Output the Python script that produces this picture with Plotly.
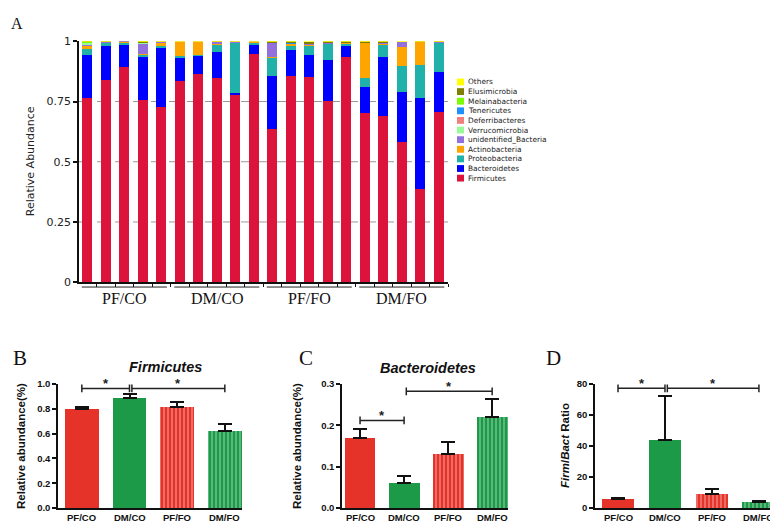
import plotly.graph_objects as go

W, H = 778, 523
def px(x): return x / W
def py(y): return 1 - y / H

# ---------------- Panel A data ----------------
group_names = ["PF/CO", "DM/CO", "PF/FO", "DM/FO"]
samples = [f"{g}-{i}" for g in group_names for i in range(1, 6)]

phyla = ["Firmicutes", "Bacteroidetes", "Proteobacteria", "Actinobacteria",
         "unidentified_Bacteria", "Verrucomicrobia", "Deferribacteres",
         "Tenericutes", "Melainabacteria", "Elusimicrobia", "Others"]
phyla_colors = ["#DC143C", "#0000FF", "#20B2AA", "#FFA500", "#9370DB", "#98FB98",
                "#F08080", "#1E90FF", "#7CFC00", "#808000", "#FFFF00"]

firmicutes = [0.766, 0.838, 0.895, 0.757, 0.727, 0.834, 0.864, 0.847, 0.777, 0.949,
              0.634, 0.854, 0.850, 0.751, 0.935, 0.704, 0.689, 0.581, 0.388, 0.705]
bacteroidetes = [0.176, 0.143, 0.092, 0.176, 0.246, 0.097, 0.074, 0.108, 0.007, 0.036,
                 0.221, 0.111, 0.093, 0.173, 0.045, 0.108, 0.246, 0.209, 0.377, 0.168]
proteobacteria = [0.024, 0.011, 0.005, 0.009, 0.007, 0.008, 0.007, 0.032, 0.209, 0.008,
                  0.075, 0.015, 0.037, 0.065, 0.010, 0.037, 0.052, 0.106, 0.135, 0.119]
actinobacteria = [0.014, 0.003, 0.007, 0.006, 0.015, 0.058, 0.052, 0.003, 0.002, 0.003,
                  0.004, 0.008, 0.004, 0.002, 0.003, 0.144, 0.003, 0.081, 0.096, 0.002]
unidentified = [0.006, 0.002, 0.001, 0.040, 0.001, 0.001, 0.001, 0.006, 0.001, 0.001,
                0.058, 0.002, 0.007, 0.003, 0.002, 0.002, 0.002, 0.020, 0.001, 0.002]
verrucomicrobia = [0.006, 0, 0, 0.004, 0, 0, 0, 0, 0, 0,
                   0.003, 0, 0, 0, 0, 0, 0, 0, 0, 0]
deferribacteres = [0.001, 0, 0, 0.003, 0, 0, 0, 0, 0, 0,
                   0, 0, 0, 0, 0, 0, 0, 0, 0, 0]
tenericutes = [0.001, 0, 0, 0, 0, 0, 0, 0, 0, 0,
               0, 0.002, 0, 0, 0, 0, 0, 0, 0, 0]
melainabacteria = [0.003, 0, 0, 0, 0, 0, 0, 0, 0, 0,
                   0, 0, 0, 0, 0, 0, 0, 0, 0, 0]
elusimicrobia = [0.001, 0.002, 0, 0.003, 0, 0, 0, 0.002, 0, 0,
                 0.002, 0.004, 0.005, 0.004, 0.002, 0.002, 0.005, 0, 0.002, 0.003]
others = [0.002, 0.001, 0, 0.002, 0.004, 0.002, 0.002, 0.002, 0.004, 0.003,
          0.003, 0.004, 0.004, 0.002, 0.003, 0.003, 0.003, 0.003, 0.001, 0.001]

phyla_values = [firmicutes, bacteroidetes, proteobacteria, actinobacteria, unidentified,
                verrucomicrobia, deferribacteres, tenericutes, melainabacteria,
                elusimicrobia, others]

a_ticks = [0, 0.25, 0.5, 0.75, 1]
a_ticktext = ["0", "0.25", "0.5", "0.75", "1"]
a_grid = [0.25, 0.5, 0.75]

# ---------------- Panels B-D data ----------------
firm_mean = [0.796, 0.885, 0.811, 0.623]
firm_sem = [0.021, 0.031, 0.045, 0.058]
bact_mean = [0.170, 0.060, 0.1295, 0.221]
bact_sem = [0.021, 0.017, 0.030, 0.043]
ratio_mean = [5.6, 44.0, 9.4, 4.0]
ratio_sem = [0.7, 28.0, 3.0, 0.6]

# significance brackets: (i, j, height)
firm_sig = [(0, 1, 0.963), (1, 3, 0.963)]
bact_sig = [(0, 1, 0.2116), (1, 3, 0.282)]
ratio_sig = [(0, 1, 77.1), (1, 3, 77.1)]

RED, GREEN = "#E6332A", "#1C9A48"
bar_bg = [RED, GREEN, RED, GREEN]
bar_shape = ["", "", "|", "|"]

fig = go.Figure()

for name, vals, col in zip(phyla, phyla_values, phyla_colors):
    fig.add_trace(go.Bar(x=samples, y=vals, name=name, width=0.54,
                         marker=dict(color=col, line=dict(width=0)),
                         xaxis="x", yaxis="y", showlegend=False))

def add_panel(mean, sem, ax):
    fig.add_trace(go.Bar(
        x=group_names, y=mean, width=0.7,
        marker=dict(color=bar_bg, line=dict(width=0),
                    pattern=dict(shape=bar_shape, fillmode="overlay",
                                 fgcolor="rgba(60,0,0,0.75)", size=4, solidity=0.28)),
        error_y=dict(type="data", symmetric=False, array=sem, arrayminus=[0] * len(sem),
                     color="#111", thickness=2, width=7),
        xaxis="x" + ax, yaxis="y" + ax, showlegend=False))

add_panel(firm_mean, firm_sem, "2")
add_panel(bact_mean, bact_sem, "3")
add_panel(ratio_mean, ratio_sem, "4")

shapes = []
annotations = []

# Panel A gridlines
for v in a_grid:
    shapes.append(dict(type="line", xref="x domain", yref="y", x0=0, x1=1, y0=v, y1=v,
                       line=dict(color="#9a9a9a", width=1, dash="dash"), layer="below"))

# Panel A group underline + labels
for gi, g in enumerate(group_names):
    i0, i1 = gi * 5, gi * 5 + 4
    shapes.append(dict(type="line", xref="x", yref="paper", x0=i0 - 0.3, x1=i1 + 0.3,
                       y0=py(280), y1=py(280), line=dict(color="#222", width=1)))
    annotations.append(dict(text=g, xref="x", yref="paper", x=(i0 + i1) / 2, y=py(292),
                            showarrow=False, xanchor="center", yanchor="middle",
                            font=dict(family="Liberation Serif", size=16, color="#111")))

# Panel A legend (manual)
for k, (name, col) in enumerate(zip(phyla[::-1], phyla_colors[::-1])):
    yc = 69.7 + k * 9.86
    shapes.append(dict(type="rect", xref="paper", yref="paper", x0=px(449), x1=px(456),
                       y0=py(yc + 3.5), y1=py(yc - 3.5), fillcolor=col, line=dict(width=0)))
    annotations.append(dict(text=name, xref="paper", yref="paper", x=px(458), y=py(yc),
                            showarrow=False, xanchor="left", yanchor="middle",
                            font=dict(family="DejaVu Sans", size=7.4, color="#222")))

# Significance brackets
def add_sig(sig, ax, tick):
    for n, (i, j, h) in enumerate(sig):
        xi = i + (0.05 if n > 0 else 0)
        xj = j
        shapes.append(dict(type="line", xref="x" + ax, yref="y" + ax, x0=xi, x1=xj, y0=h, y1=h,
                           line=dict(color="#222", width=1.5)))
        for xe in (xi, xj):
            shapes.append(dict(type="line", xref="x" + ax, yref="y" + ax, x0=xe, x1=xe,
                               y0=h - tick, y1=h + tick, line=dict(color="#222", width=1.5)))
        annotations.append(dict(text="<b>*</b>", xref="x" + ax, yref="y" + ax,
                                x=(xi + xj) / 2, y=h, yanchor="bottom", yshift=-5,
                                showarrow=False,
                                font=dict(family="Liberation Sans", size=13, color="#222")))

add_sig(firm_sig, "2", 0.031)
add_sig(bact_sig, "3", 0.0094)
add_sig(ratio_sig, "4", 2.5)

# Letters and titles
for letter, (lx, ly), size in [("A", (9, 10), 16), ("B", (12, 353), 21),
                               ("C", (298, 353), 21), ("D", (545, 353), 21)]:
    annotations.append(dict(text=letter, xref="paper", yref="paper", x=px(lx), y=py(ly),
                            showarrow=False, xanchor="center", yanchor="middle",
                            font=dict(family="Liberation Serif", size=size, color="#111")))

for t, (tx, ty) in [("<b><i>Firmicutes</i></b>", (157, 362)),
                    ("<b><i>Bacteroidetes</i></b>", (420, 363))]:
    annotations.append(dict(text=t, xref="paper", yref="paper", x=px(tx), y=py(ty),
                            showarrow=False, xanchor="center", yanchor="middle",
                            font=dict(family="Liberation Sans", size=14.5, color="#111")))

annotations.append(dict(text="Relative Abundance", xref="paper", yref="paper",
                        x=px(22), y=py(151), textangle=-90, showarrow=False,
                        xanchor="center", yanchor="middle",
                        font=dict(family="DejaVu Sans", size=11, color="#222")))
for yt, tx in [("<b>Relative abundance(%)</b>", 13), ("<b>Relative abundance(%)</b>", 289),
               ("<b><i>Firm</i>/<i>Bact</i> Ratio</b>", 557)]:
    annotations.append(dict(text=yt, xref="paper", yref="paper", x=px(tx), y=py(443),
                            textangle=-90, showarrow=False, xanchor="center", yanchor="middle",
                            font=dict(family="Liberation Sans", size=11.5, color="#111")))

# Bottom category labels for B-D drawn as annotations to keep them inside the page
for ax in ["2", "3", "4"]:
    for gi, g in enumerate(group_names):
        annotations.append(dict(text=g, xref="x" + ax, yref="paper", x=gi, y=py(516),
                                showarrow=False, xanchor="center", yanchor="middle",
                                font=dict(family="Liberation Sans", size=9.5, color="#111",
                                          weight="bold")))

axis_common = dict(showline=True, linecolor="#111", linewidth=1.5, showgrid=False,
                   zeroline=False, tickcolor="#111", tickwidth=1.5)
small_font = dict(family="Liberation Sans", size=9.5, color="#111", weight="bold")

fig.update_layout(
    width=W, height=H, margin=dict(l=0, r=0, t=0, b=0),
    paper_bgcolor="white", plot_bgcolor="white", barmode="stack",
    xaxis=dict(domain=[px(71), px(440)], anchor="y", type="category", range=[-0.45, 19.5],
               showticklabels=False, tickson="boundaries", ticks="outside", ticklen=3,
               **{**axis_common, "tickwidth": 1}),
    yaxis=dict(domain=[py(275), py(28)], anchor="x", range=[0, 1], tickvals=a_ticks,
               ticktext=a_ticktext, ticks="outside", ticklen=4,
               tickfont=dict(family="DejaVu Sans", size=11, color="#222"), **axis_common),
    xaxis2=dict(domain=[px(50), px(234)], anchor="y2", range=[-0.5, 3.36], ticks="",
                showticklabels=False, **axis_common),
    yaxis2=dict(domain=[py(506.7), py(379.3)], anchor="x2", range=[0, 1.0], dtick=0.2,
                tickformat=".1f", ticks="outside", ticklen=4, tickfont=small_font,
                **axis_common),
    xaxis3=dict(domain=[px(334), px(500)], anchor="y3", range=[-0.41, 3.36], ticks="",
                showticklabels=False, **axis_common),
    yaxis3=dict(domain=[py(506.7), py(379.3)], anchor="x3", range=[0, 0.3], dtick=0.1,
                tickformat=".1f", ticks="outside", ticklen=4, tickfont=small_font,
                **axis_common),
    xaxis4=dict(domain=[px(587), px(773)], anchor="y4", range=[-0.49, 3.47], ticks="",
                showticklabels=False, **axis_common),
    yaxis4=dict(domain=[py(506.7), py(379.3)], anchor="x4", range=[0, 80], dtick=20,
                ticks="outside", ticklen=4, tickfont=small_font, **axis_common),
    shapes=shapes, annotations=annotations,
)

fig.write_html("out.html")
